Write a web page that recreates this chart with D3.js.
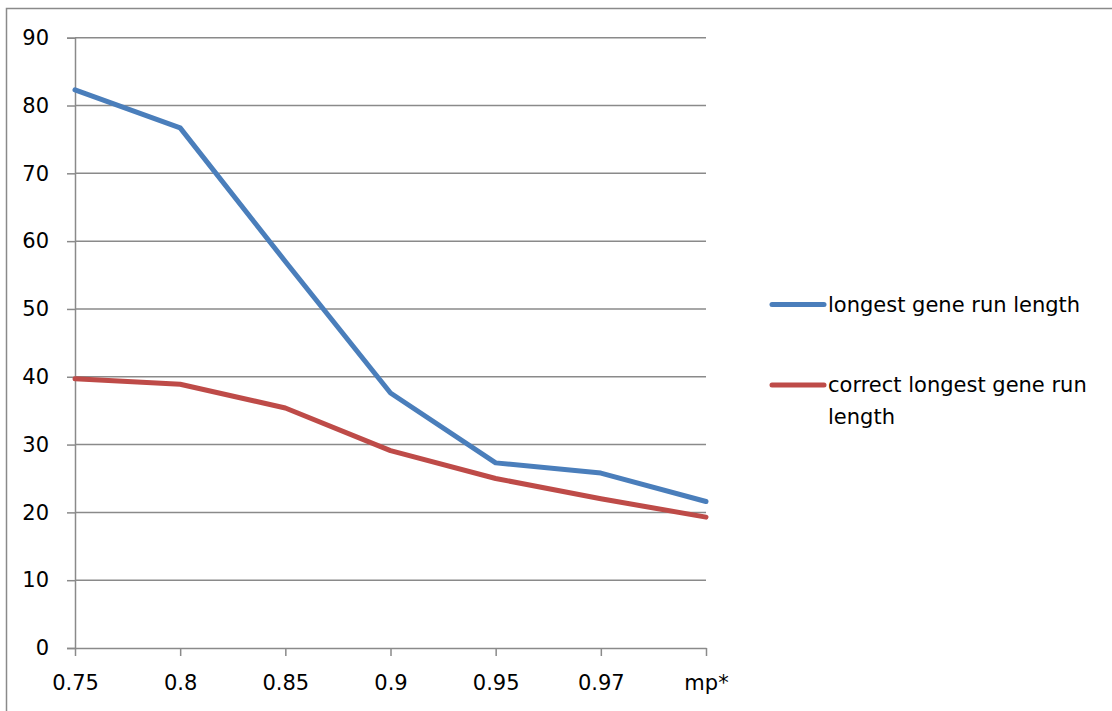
<!DOCTYPE html>
<html>
<head>
<meta charset="utf-8">
<script src="https://cdn.jsdelivr.net/npm/d3@7"></script>
<style>
  html, body { margin: 0; padding: 0; background: #fff; }
  svg { display: block; }
  text { font-family: "DejaVu Sans", sans-serif; fill: #000; }
</style>
</head>
<body>
<svg id="chart" width="1112" height="711"></svg>
<script>
// Categories along the x axis
const categories = ["0.75", "0.8", "0.85", "0.9", "0.95", "0.97", "mp*"];
// Series values
const longestRun = [82.3, 76.7, 57.0, 37.6, 27.3, 25.8, 21.6];
const correctLongestRun = [39.7, 38.9, 35.4, 29.1, 25.0, 22.0, 19.3];
const seriesNames = ["longest gene run length", "correct longest gene run length"];
// Y tick labels
const yTicks = [0, 10, 20, 30, 40, 50, 60, 70, 80, 90];

const series = [
  { name: seriesNames[0], values: longestRun, color: "#4A7EBB" },
  { name: seriesNames[1], values: correctLongestRun, color: "#BE4B48" }
];

const svg = d3.select("#chart");
const gridColor = "#8a8a8a";
const fontFamily = "'DejaVu Sans', sans-serif";
const fontSize = 21;

// outer chart frame
svg.append("rect")
  .attr("x", 6.5).attr("y", 8.5)
  .attr("width", 1200).attr("height", 800)
  .attr("fill", "none").attr("stroke", gridColor).attr("stroke-width", 1.5);

const plot = { left: 75, right: 706, top: 37.7, bottom: 648 };

const x = d3.scalePoint().domain(categories).range([plot.left, plot.right]);
const y = d3.scaleLinear().domain([0, 90]).range([plot.bottom, plot.top]);

// horizontal gridlines
svg.append("g")
  .selectAll("line")
  .data(yTicks.filter(d => d > 0))
  .join("line")
  .attr("x1", plot.left).attr("x2", plot.right)
  .attr("y1", d => y(d)).attr("y2", d => y(d))
  .attr("stroke", gridColor).attr("stroke-width", 1.5);

// y axis
const yAxis = svg.append("g")
  .attr("transform", `translate(${plot.left},0)`)
  .call(d3.axisLeft(y).tickValues(yTicks).tickSize(8).tickPadding(18).tickFormat(d3.format("d")));
yAxis.select(".domain").attr("stroke", gridColor).attr("stroke-width", 1.5);
yAxis.selectAll(".tick line").attr("stroke", gridColor).attr("stroke-width", 1.5);
yAxis.selectAll(".tick text").attr("font-size", fontSize).attr("font-family", fontFamily).attr("fill", "#000");

// x axis
const xAxis = svg.append("g")
  .attr("transform", `translate(0,${plot.bottom})`)
  .call(d3.axisBottom(x).tickSize(8).tickPadding(19).tickSizeOuter(0));
xAxis.select(".domain").attr("stroke", gridColor).attr("stroke-width", 1.5);
xAxis.selectAll(".tick line").attr("stroke", gridColor).attr("stroke-width", 1.5);
xAxis.selectAll(".tick text").attr("font-size", fontSize).attr("font-family", fontFamily).attr("fill", "#000");

// series lines
const line = d3.line()
  .x((d, i) => x(categories[i]))
  .y(d => y(d));

svg.append("g")
  .selectAll("path")
  .data(series)
  .join("path")
  .attr("d", d => line(d.values))
  .attr("fill", "none")
  .attr("stroke", d => d.color)
  .attr("stroke-width", 5)
  .attr("stroke-linejoin", "round")
  .attr("stroke-linecap", "round");

// legend
const legendRows = [
  { s: series[0], y: 304.5, lines: ["longest gene run length"] },
  { s: series[1], y: 385, lines: ["correct longest gene run", "length"] }
];
const legend = svg.append("g");
legendRows.forEach(r => {
  legend.append("line")
    .attr("x1", 772).attr("x2", 824)
    .attr("y1", r.y).attr("y2", r.y)
    .attr("stroke", r.s.color).attr("stroke-width", 5)
    .attr("stroke-linecap", "round");
  const t = legend.append("text")
    .attr("x", 828).attr("y", r.y)
    .attr("font-size", fontSize)
    .attr("font-family", fontFamily)
    .attr("dominant-baseline", "central");
  r.lines.forEach((l, i) => {
    t.append("tspan").attr("x", 828).attr("dy", i === 0 ? 0 : 32).text(l);
  });
});
</script>
</body>
</html>
